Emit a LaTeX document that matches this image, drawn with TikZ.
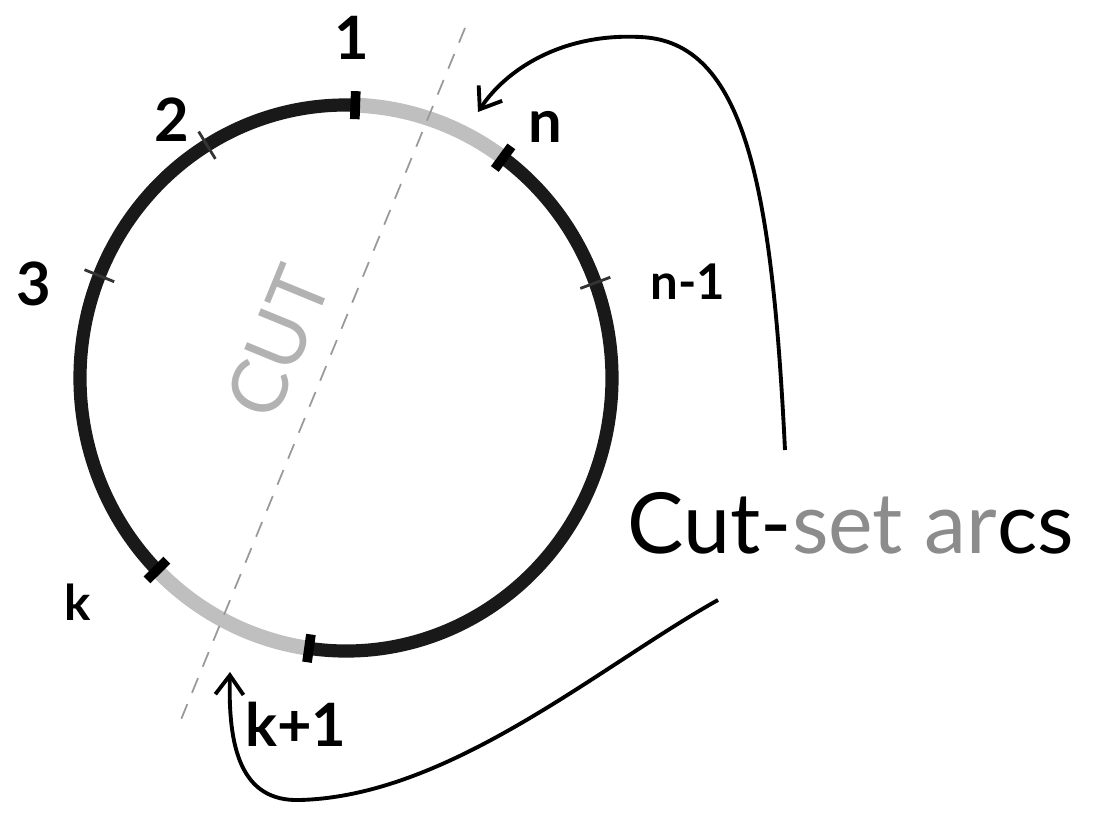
\documentclass[tikz,border=0pt]{standalone}
\usepackage{fontspec}
\setmainfont{Lato}
\usetikzlibrary{arrows.meta,calc}

\begin{document}
\begin{tikzpicture}[
  x=0.02cm, y=0.02cm,
  arcb/.style={line width=7.5pt, black!90},
  arcg/.style={line width=8.5pt, black!25},
  tick/.style={line width=1.6pt, black!80},
  endbar/.style={line width=5.5pt, black},
  lab/.style={font=\fontsize{34}{34}\selectfont\bfseries, inner sep=0pt},
  cutl/.style={black!40, line width=1pt, dash pattern=on 9pt off 7pt},
  ar/.style={-{Straight Barb[length=11pt,width=16pt]}, line width=2.2pt},
]
\useasboundingbox (0,0) rectangle (1096,836);

% ring of nodes
\coordinate (o) at (346,458);
\foreach \nm/\a in {p1/88, p2/121.5, p3/158, pk/224.7, pkk/262, pnn/20.4, pn/53.8}
  \coordinate (\nm) at ($(o)+(\a:266 and 273)$);

\draw[arcg] (pn) arc[start angle=53.8, end angle=88, x radius=266, y radius=273];
\draw[arcb] (p1) arc[start angle=88, end angle=224.7, x radius=266, y radius=273];
\draw[arcg] (pk) arc[start angle=224.7, end angle=262, x radius=266, y radius=273];
\draw[arcb] (pkk) arc[start angle=-98, end angle=53.8, x radius=266, y radius=273];

\foreach \a in {121.5,158,20.4}
  \draw[tick] ($(o)+(\a:250 and 257)$) -- ($(o)+(\a:282 and 289)$);
\foreach \a in {88,53.8,224.7,262}
  \draw[endbar] ($(o)+(\a:252 and 259)$) -- ($(o)+(\a:280 and 287)$);

\node[lab] (l1)   at (352,798) {1};
\node[lab] (l2)   at (172,716) {2};
\node[lab] (l3)   at (34,552)  {3};
\node[lab] (ln)   at (545,709) {n};
\node[lab, font=\fontsize{28}{28}\selectfont\bfseries] (lnn) at (688,554) {n-1};
\node[lab, font=\fontsize{28}{28}\selectfont\bfseries] (lk)  at (78,234)  {k};
\node[lab] (lkk)  at (296,112) {k+1};

% the cut
\coordinate (ct) at (465,808);
\coordinate (cb) at (180,114);
\draw[cutl] (ct) -- (cb);
\node[lab, font=\fontsize{44}{44}\selectfont, text=black!30, rotate=67.7] (cut) at (278,494) {CUT};

\node[lab, font=\fontsize{48}{48}\selectfont] (csa) at (851,313)
  {Cut-\textcolor{black!45}{set ar}cs};

\coordinate (s1) at (785,386);
\coordinate (t1) at (478,724);
\coordinate (s2) at (718,236);
\coordinate (t2) at (230,164);
\draw[ar] (s1) .. controls (772,650) and (745,795) .. (640,799)
  .. controls (560,803) and (505,765) .. (t1);
\draw[ar] (s2) .. controls (600,170) and (450,40) .. (300,36)
  .. controls (240,34) and (228,90) .. (t2);
\end{tikzpicture}
\end{document}
